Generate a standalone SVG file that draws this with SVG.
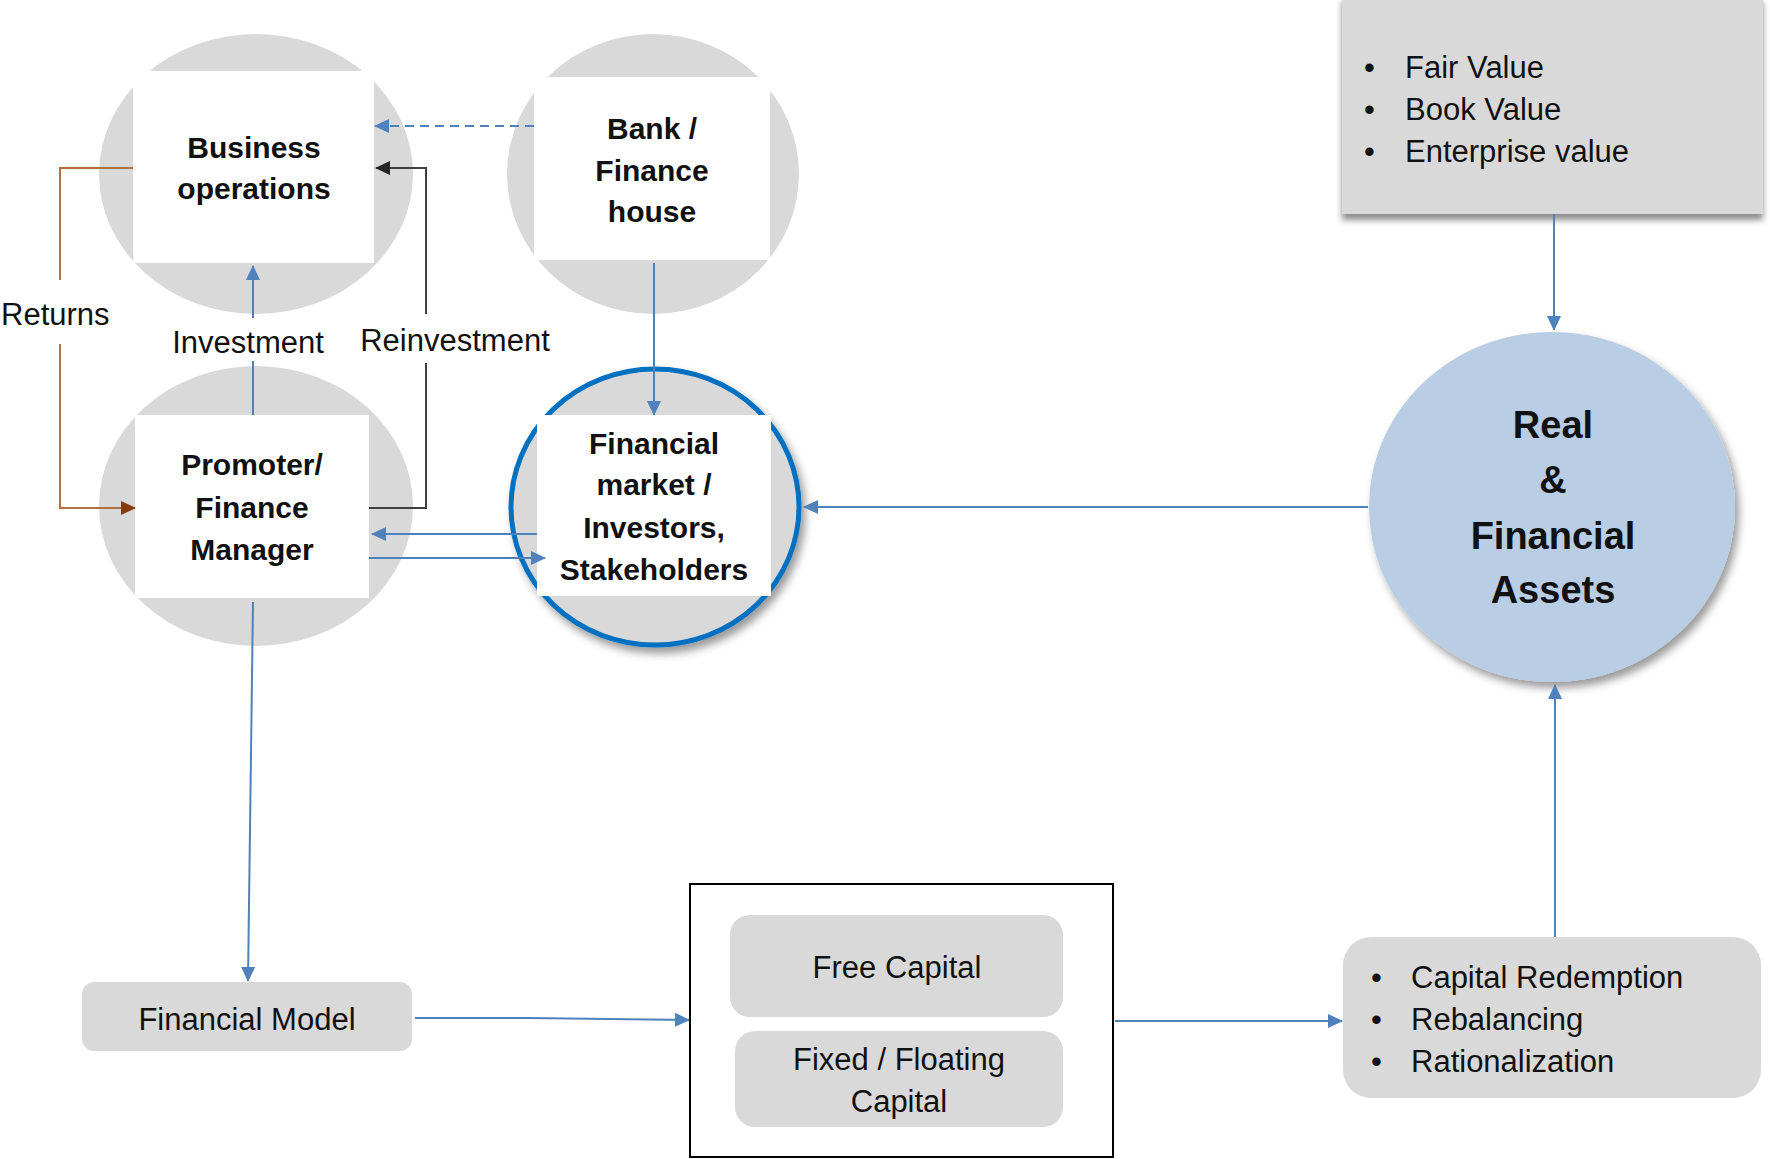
<svg xmlns="http://www.w3.org/2000/svg" width="1770" height="1159" viewBox="0 0 1770 1159">
<style>
.txt{font-family:"Liberation Sans",Arial,sans-serif;fill:#111;}
.reg{font-size:31px;}
.bold{font-size:30px;font-weight:bold;}
.big{font-size:38px;font-weight:bold;}
.gray{fill:#D9D9D9;}
.white{fill:#FFFFFF;}
.blue{stroke:#4F81BD;stroke-width:2;fill:none;}
</style>
<defs>
<marker id="ab" markerUnits="userSpaceOnUse" markerWidth="16" markerHeight="16" refX="14" refY="8" orient="auto"><path d="M0,1 L15,8 L0,15 Z" fill="#4F81BD"/></marker>
<marker id="ak" markerUnits="userSpaceOnUse" markerWidth="16" markerHeight="16" refX="14" refY="8" orient="auto"><path d="M0,1 L15,8 L0,15 Z" fill="#262626"/></marker>
<marker id="ar" markerUnits="userSpaceOnUse" markerWidth="16" markerHeight="16" refX="14" refY="8" orient="auto"><path d="M0,1 L15,8 L0,15 Z" fill="#843C0C"/></marker>
<filter id="sh" x="-20%" y="-20%" width="150%" height="150%"><feDropShadow dx="4" dy="6" stdDeviation="4" flood-color="#000" flood-opacity="0.4"/></filter>
<filter id="sh2" x="-10%" y="-10%" width="130%" height="140%"><feDropShadow dx="0" dy="6" stdDeviation="3" flood-color="#000" flood-opacity="0.45"/></filter>
</defs>

<g id="business-operations">
<ellipse class="gray" cx="256" cy="174" rx="157" ry="140"/>
<rect class="white" x="133" y="71" width="241" height="192"/>
<text class="txt bold" text-anchor="middle"><tspan x="254" y="158">Business</tspan><tspan x="254" y="199">operations</tspan></text>
</g>

<g id="bank-finance-house">
<ellipse class="gray" cx="653" cy="174" rx="146" ry="140"/>
<rect class="white" x="534" y="77" width="236" height="183"/>
<text class="txt bold" text-anchor="middle"><tspan x="652" y="139">Bank /</tspan><tspan x="652" y="181">Finance</tspan><tspan x="652" y="222">house</tspan></text>
</g>

<g id="promoter-finance-manager">
<ellipse class="gray" cx="256" cy="506" rx="157" ry="140"/>
<rect class="white" x="135" y="415" width="234" height="183"/>
<text class="txt bold" text-anchor="middle"><tspan x="252" y="475">Promoter/</tspan><tspan x="252" y="518">Finance</tspan><tspan x="252" y="560">Manager</tspan></text>
</g>

<g id="financial-market">
<ellipse cx="655" cy="507" rx="144" ry="138" fill="#D9D9D9" stroke="#0070C0" stroke-width="5" filter="url(#sh)"/>
<rect class="white" x="537" y="415" width="234" height="181"/>
<text class="txt bold" text-anchor="middle"><tspan x="654" y="454">Financial</tspan><tspan x="654" y="495">market /</tspan><tspan x="654" y="538">Investors,</tspan><tspan x="654" y="580">Stakeholders</tspan></text>
</g>

<g id="valuation-box">
<rect x="1342" y="-4" width="421" height="218" fill="#D9D9D9" filter="url(#sh2)"/>
<text class="txt reg"><tspan x="1364" y="78">•</tspan><tspan x="1405" y="78">Fair Value</tspan><tspan x="1364" y="120">•</tspan><tspan x="1405" y="120">Book Value</tspan><tspan x="1364" y="162">•</tspan><tspan x="1405" y="162">Enterprise value</tspan></text>
</g>

<g id="real-financial-assets">
<ellipse cx="1552" cy="507" rx="183" ry="175" fill="#B9CDE5" filter="url(#sh)"/>
<text class="txt big" text-anchor="middle"><tspan x="1553" y="438">Real</tspan><tspan x="1553" y="493">&amp;</tspan><tspan x="1553" y="549">Financial</tspan><tspan x="1553" y="603">Assets</tspan></text>
</g>

<g id="financial-model">
<rect class="gray" x="82" y="982" width="330" height="69" rx="12"/>
<text class="txt reg" text-anchor="middle" x="247" y="1030">Financial Model</text>
</g>

<g id="capital-group">
<rect x="690" y="884" width="423" height="273" fill="#FFFFFF" stroke="#000" stroke-width="2"/>
<g id="free-capital">
<rect class="gray" x="730" y="915" width="333" height="102" rx="20"/>
<text class="txt reg" text-anchor="middle" x="897" y="978">Free Capital</text>
</g>
<g id="fixed-floating-capital">
<rect class="gray" x="735" y="1031" width="328" height="96" rx="20"/>
<text class="txt reg" text-anchor="middle"><tspan x="899" y="1070">Fixed / Floating</tspan><tspan x="899" y="1112">Capital</tspan></text>
</g>
</g>

<g id="capital-actions">
<rect class="gray" x="1343" y="937" width="418" height="161" rx="28"/>
<text class="txt reg"><tspan x="1371" y="988">•</tspan><tspan x="1411" y="988">Capital Redemption</tspan><tspan x="1371" y="1030">•</tspan><tspan x="1411" y="1030">Rebalancing</tspan><tspan x="1371" y="1072">•</tspan><tspan x="1411" y="1072">Rationalization</tspan></text>
</g>

<g id="connectors">
<path d="M534,126 L375,126" class="blue" stroke-dasharray="9,6" marker-end="url(#ab)"/>
<path d="M369,508 H426 V363" fill="none" stroke="#404040" stroke-width="2"/>
<path d="M426,314 V168 H376" fill="none" stroke="#404040" stroke-width="2" marker-end="url(#ak)"/>
<path d="M133,168 H60 V280" fill="none" stroke="#B4713D" stroke-width="2"/>
<path d="M60,344 V508 H135" fill="none" stroke="#B4713D" stroke-width="2" marker-end="url(#ar)"/>
<path d="M253,415 V361" class="blue"/>
<path d="M253,318 V266" class="blue" marker-end="url(#ab)"/>
<path d="M654,263 V415" class="blue" marker-end="url(#ab)"/>
<path d="M537,534 H372" class="blue" marker-end="url(#ab)"/>
<path d="M369,558 H545" class="blue" marker-end="url(#ab)"/>
<path d="M1368,507 H804" class="blue" marker-end="url(#ab)"/>
<path d="M1554,214 V330" class="blue" marker-end="url(#ab)"/>
<path d="M1555,937 V685" class="blue" marker-end="url(#ab)"/>
<path d="M253,602 L248,981" class="blue" marker-end="url(#ab)"/>
<path d="M415,1018 H528 L689,1020" class="blue" stroke-width="2.5" marker-end="url(#ab)"/>
<path d="M1115,1021 H1342" class="blue" stroke-width="2.5" marker-end="url(#ab)"/>
<text class="txt reg" x="1" y="325">Returns</text>
<text class="txt reg" x="248" y="353" text-anchor="middle">Investment</text>
<text class="txt reg" x="455" y="351" text-anchor="middle">Reinvestment</text>
</g>
</svg>
